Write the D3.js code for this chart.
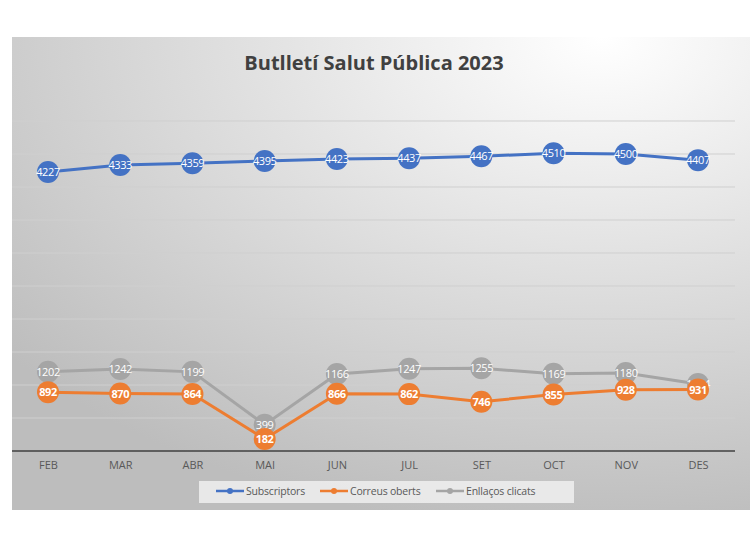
<!DOCTYPE html>
<html>
<head>
<meta charset="utf-8">
<script src="https://cdn.jsdelivr.net/npm/d3@7"></script>
<style>
  body { margin: 0; background: #fff; }
  text { font-family: 'Open Sans', 'Noto Sans', sans-serif; }
</style>
</head>
<body>
<div id="root"></div>
<script>
const months = ['FEB', 'MAR', 'ABR', 'MAI', 'JUN', 'JUL', 'SET', 'OCT', 'NOV', 'DES']
const subscriptors = [4227, 4333, 4359, 4395, 4423, 4437, 4467, 4510, 4500, 4407]
const correus = [892, 870, 864, 182, 866, 862, 746, 855, 928, 931]
const enllacos = [1202, 1242, 1199, 399, 1166, 1247, 1255, 1169, 1180, 1014]
const seriesNames = ['Subscriptors', 'Correus oberts', 'Enllaços clicats']
const colors = ['#4472c4', '#ed7d31', '#a5a5a5']
const yTicks = d3.range(0, 5001, 500)

const W = 750
const H = 550
const svg = d3.select('#root').append('svg').attr('width', W).attr('height', H)

// Background gradient like Excel style
const defs = svg.append('defs')
const grad = defs.append('radialGradient').attr('id', 'bg')
  .attr('cx', '80%').attr('cy', '0%').attr('r', '105%')
grad.append('stop').attr('offset', '0%').attr('stop-color', '#ffffff')
grad.append('stop').attr('offset', '100%').attr('stop-color', '#bdbdbd')

svg.append('rect')
  .attr('x', 12).attr('y', 37).attr('width', 738).attr('height', 473)
  .attr('fill', 'url(#bg)')

svg.append('text')
  .attr('x', 374).attr('y', 70)
  .attr('text-anchor', 'middle')
  .attr('font-size', 20).attr('font-weight', 'bold')
  .attr('fill', '#404040')
  .text('Butlletí Salut Pública 2023')

const x = d3.scalePoint().domain(months).range([48, 698])
const y = d3.scaleLinear().domain([0, 5000]).range([451, 121])

// Gridlines
svg.append('g').selectAll('line')
  .data(yTicks.slice(1)).enter()
  .append('line')
  .attr('x1', 12).attr('x2', 735)
  .attr('y1', d => y(d)).attr('y2', d => y(d))
  .attr('stroke', '#cfcfcf').attr('stroke-width', 1)

// X axis
const xAxis = svg.append('g').attr('transform', `translate(0,${y(0)})`)
  .call(d3.axisBottom(x).tickSize(0).tickPadding(10))
xAxis.select('.domain').attr('d', 'M12,0H735').attr('stroke', '#404040').attr('stroke-width', 1.3)
xAxis.selectAll('text').attr('font-size', 11).attr('fill', '#595959')
  .style('font-family', "'Open Sans', sans-serif")

const series = [subscriptors, correus, enllacos]
const line = d3.line().x((d, i) => x(months[i])).y(d => y(d))

// orange drawn after grey, labels of grey drawn on top at the end
const order = [0, 2, 1]
order.forEach(k => {
  const vals = series[k]
  const g = svg.append('g')
  g.append('path').datum(vals)
    .attr('d', line)
    .attr('fill', 'none')
    .attr('stroke', colors[k]).attr('stroke-width', 3)
  g.selectAll('circle').data(vals).enter()
    .append('circle')
    .attr('cx', (d, i) => x(months[i]))
    .attr('cy', d => y(d))
    .attr('r', 11)
    .attr('fill', colors[k])
  g.selectAll('text').data(vals).enter()
    .append('text')
    .attr('x', (d, i) => x(months[i]))
    .attr('y', d => y(d) + 4)
    .attr('text-anchor', 'middle')
    .attr('font-size', 11)
    .attr('letter-spacing', -0.4)
    .attr('fill', '#fff')
    .attr('font-weight', k === 1 ? 'bold' : 'normal')
    .text(d => d)
})

// Legend
svg.append('rect')
  .attr('x', 199).attr('y', 481).attr('width', 375).attr('height', 22)
  .attr('fill', '#f2f2f2').attr('opacity', 0.8)
const legendX = [216, 320, 436]
seriesNames.forEach((name, k) => {
  const lg = svg.append('g').attr('transform', `translate(${legendX[k]},491)`)
  lg.append('line').attr('x1', 0).attr('x2', 28)
    .attr('stroke', colors[k]).attr('stroke-width', 2.5)
  lg.append('circle').attr('cx', 14).attr('r', 3).attr('fill', colors[k])
  lg.append('text').attr('x', 30).attr('y', 4)
    .attr('font-size', 10.5).attr('letter-spacing', -0.2)
    .attr('fill', '#595959').text(name)
})
</script>
</body>
</html>
